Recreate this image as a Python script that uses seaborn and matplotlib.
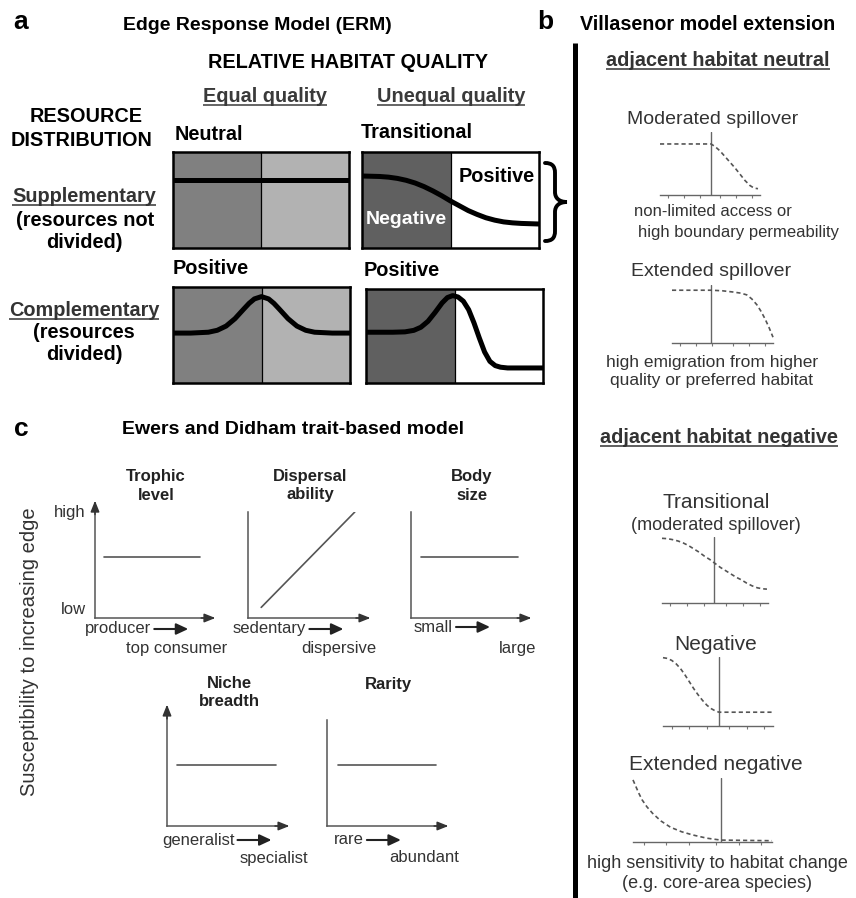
import matplotlib
matplotlib.use("Agg")
import matplotlib.pyplot as plt
from matplotlib.path import Path
from matplotlib.patches import PathPatch
import seaborn as sns

W, H = 856, 898

# ---------------- panel a: Edge Response Model profiles (box-relative) ----------------
neutral_x = [0.0, 1.0]
neutral_y = [0.71, 0.71]
transitional_x = [0.0, 0.10, 0.15, 0.20, 0.25, 0.30, 0.35, 0.40, 0.45, 0.50,
                  0.55, 0.60, 0.65, 0.70, 0.75, 0.80, 0.85, 0.90, 1.0]
transitional_y = [0.75, 0.745, 0.738, 0.725, 0.705, 0.677, 0.64, 0.595, 0.545, 0.49,
                  0.44, 0.39, 0.35, 0.315, 0.29, 0.272, 0.262, 0.256, 0.25]
comp_equal_x = [0.0, 0.10, 0.20, 0.25, 0.30, 0.35, 0.40, 0.43, 0.46, 0.50,
                0.54, 0.57, 0.60, 0.65, 0.70, 0.75, 0.80, 0.90, 1.0]
comp_equal_y = [0.52, 0.52, 0.529, 0.549, 0.593, 0.67, 0.771, 0.83, 0.876, 0.90,
                0.876, 0.83, 0.771, 0.67, 0.593, 0.549, 0.529, 0.52, 0.52]
comp_unequal_x = [0.0, 0.15, 0.22, 0.27, 0.31, 0.35, 0.39, 0.43, 0.46, 0.49, 0.52,
                  0.55, 0.58, 0.61, 0.64, 0.67, 0.70, 0.73, 0.76, 0.80, 0.90, 1.0]
comp_unequal_y = [0.54, 0.54, 0.544, 0.56, 0.593, 0.656, 0.75, 0.852, 0.909, 0.93, 0.915,
                  0.87, 0.78, 0.64, 0.48, 0.33, 0.23, 0.185, 0.168, 0.16, 0.16, 0.16]

# ---------------- panel b: Villasenor edge profiles (edge at given x) ----------------
mod_spill_x = [0.0, 0.51, 0.55, 0.60, 0.65, 0.70, 0.75, 0.80, 0.85, 0.90, 0.94, 0.98]
mod_spill_y = [0.81, 0.81, 0.77, 0.70, 0.61, 0.52, 0.43, 0.33, 0.23, 0.15, 0.11, 0.10]
ext_spill_x = [0.0, 0.39, 0.50, 0.60, 0.68, 0.74, 0.79, 0.84, 0.88, 0.92, 0.96, 1.0]
ext_spill_y = [0.91, 0.91, 0.90, 0.88, 0.86, 0.83, 0.76, 0.66, 0.55, 0.42, 0.27, 0.10]
trans_x = [0.0, 0.05, 0.10, 0.15, 0.20, 0.25, 0.30, 0.35, 0.40, 0.45, 0.50,
           0.55, 0.60, 0.65, 0.70, 0.75, 0.80, 0.85, 0.90, 0.95, 0.99]
trans_y = [0.98, 0.975, 0.96, 0.94, 0.91, 0.87, 0.82, 0.77, 0.71, 0.66, 0.60,
           0.54, 0.49, 0.44, 0.39, 0.35, 0.30, 0.26, 0.23, 0.215, 0.21]
neg_x = [0.0, 0.04, 0.08, 0.12, 0.16, 0.20, 0.24, 0.28, 0.32, 0.36, 0.40, 0.44, 0.48, 0.51, 1.0]
neg_y = [0.99, 0.98, 0.95, 0.90, 0.83, 0.74, 0.64, 0.54, 0.45, 0.37, 0.30, 0.25, 0.215, 0.20, 0.20]
ext_neg_x = [0.0, 0.02, 0.04, 0.065, 0.10, 0.14, 0.20, 0.27, 0.35, 0.43, 0.53, 0.63, 1.0]
ext_neg_y = [0.97, 0.87, 0.77, 0.66, 0.55, 0.45, 0.33, 0.23, 0.16, 0.11, 0.06, 0.03, 0.02]
edge_pos = [0.51, 0.39, 0.49, 0.51, 0.63]
profile_ticks = [0.08, 0.24, 0.40, 0.60, 0.76, 0.92]

# ---------------- panel c: Ewers & Didham trait responses ----------------
trait_top = ["Trophic", "Dispersal", "Body", "Niche", "Rarity"]
trait_bottom = ["level", "ability", "size", "breadth", ""]
trait_low = ["producer", "sedentary", "small", "generalist", "rare"]
trait_high = ["top consumer", "dispersive", "large", "specialist", "abundant"]
trait_x0 = [0.08, 0.11, 0.085, 0.085, 0.09]
trait_x1 = [0.89, 0.89, 0.91, 0.905, 0.92]
trait_y0 = [0.53, 0.10, 0.575, 0.51, 0.575]
trait_y1 = [0.53, 1.00, 0.575, 0.51, 0.575]

sns.set_theme(style="white")
plt.rcParams["font.family"] = ["Liberation Sans", "DejaVu Sans"]

fig = plt.figure(figsize=(W / 100, H / 100), dpi=100)
fig.patch.set_facecolor("white")
canvas = fig.add_axes([0, 0, 1, 1], zorder=0)
canvas.set_xlim(0, W)
canvas.set_ylim(H, 0)
canvas.axis("off")


def px_axes(x0, y0, x1, y1):
    ax = fig.add_axes([x0 / W, 1 - y1 / H, (x1 - x0) / W, (y1 - y0) / H], zorder=2)
    ax.set_xlim(0, 1)
    ax.set_ylim(0, 1)
    ax.set_xticks([])
    ax.set_yticks([])
    ax.patch.set_alpha(0)
    return ax


def label(x, y, s, size, weight="normal", color="black", ha="center", va="center", **kw):
    return canvas.text(x, y, s, fontsize=size, fontweight=weight, color=color,
                       ha=ha, va=va, **kw)


def text_right(t):
    r = fig.canvas.get_renderer()
    bb = t.get_window_extent(renderer=r)
    return canvas.transData.inverted().transform((bb.x1, bb.y0))[0]


def underline(t, y, color, lw=1.1):
    r = fig.canvas.get_renderer()
    bb = t.get_window_extent(renderer=r)
    inv = canvas.transData.inverted()
    x0 = inv.transform((bb.x0, bb.y0))[0]
    x1 = inv.transform((bb.x1, bb.y0))[0]
    canvas.plot([x0, x1], [y, y], color=color, lw=lw, solid_capstyle="butt")


# ======================= panel a =======================
label(21, 22, "a", 19, "bold")
label(257, 25, "Edge Response Model (ERM)", 14, "bold")
label(348, 62, "RELATIVE HABITAT QUALITY", 14.3, "bold")
t = label(265, 102, "Equal quality", 14.3, "bold", "#3a3a3a", va="baseline")
underline(t, 105, "#3a3a3a")
t = label(451, 102, "Unequal quality", 14.3, "bold", "#3a3a3a", va="baseline")
underline(t, 105, "#3a3a3a")
label(86, 117, "RESOURCE", 14.3, "bold")
label(82, 141, "DISTRIBUTION", 14.3, "bold")
label(175, 135, "Neutral", 14.3, "bold", ha="left")
label(361, 133, "Transitional", 14.3, "bold", ha="left")

t = label(84, 202, "Supplementary", 14.3, "bold", "#333333", va="baseline")
underline(t, 204.5, "#333333")
label(85, 220, "(resources not", 14.3, "bold")
label(84, 242, "divided)", 14.3, "bold")
t = label(84, 316, "Complementary", 14.3, "bold", "#333333", va="baseline")
underline(t, 318.5, "#333333")
label(84, 333, "(resources", 14.3, "bold")
label(84, 355, "divided)", 14.3, "bold")
label(173, 269, "Positive", 14.3, "bold", ha="left")
label(364, 271, "Positive", 14.3, "bold", ha="left")


def erm_box(x0, y0, x1, y1, left_c, right_c, xs, ys):
    ax = px_axes(x0, y0, x1, y1)
    ax.patch.set_alpha(1)
    ax.axvspan(0, 0.5, color=left_c, lw=0)
    ax.axvspan(0.5, 1, color=right_c, lw=0)
    ax.axvline(0.5, color="black", lw=0.9)
    sns.lineplot(x=xs, y=ys, ax=ax, color="black", lw=3.6, estimator=None, sort=False,
                 solid_joinstyle="round")
    for s in ax.spines.values():
        s.set_visible(True)
        s.set_color("black")
        s.set_linewidth(1.8)
    return ax


erm_box(173, 152, 349, 248, "#808080", "#b2b2b2", neutral_x, neutral_y)
ax2 = erm_box(362, 152, 539, 248, "#606060", "white", transitional_x, transitional_y)
erm_box(173, 287, 350, 383, "#808080", "#b2b2b2", comp_equal_x, comp_equal_y)
erm_box(366, 289, 543, 383, "#606060", "white", comp_unequal_x, comp_unequal_y)
ax2.text(459, 177, "Positive", fontsize=14.3, fontweight="bold", color="black",
         ha="left", va="center", transform=canvas.transData, zorder=6)
ax2.text(366, 219, "Negative", fontsize=14, fontweight="bold", color="white",
         ha="left", va="center", transform=canvas.transData, zorder=6)

# curly brace grouping the supplementary unequal case
brace = Path(
    [(545, 163), (552, 163), (555, 166), (555, 173), (555, 192),
     (555, 198), (559, 202), (567, 202),
     (559, 202), (555, 206), (555, 212), (555, 231),
     (555, 238), (552, 241), (545, 241)],
    [Path.MOVETO, Path.CURVE4, Path.CURVE4, Path.CURVE4, Path.LINETO,
     Path.CURVE4, Path.CURVE4, Path.CURVE4,
     Path.CURVE4, Path.CURVE4, Path.CURVE4, Path.LINETO,
     Path.CURVE4, Path.CURVE4, Path.CURVE4])
canvas.add_patch(PathPatch(brace, fill=False, lw=2.8, color="black", capstyle="round"))

# ======================= panel b =======================
label(545, 22, "b", 19, "bold")
label(708, 25, "Villasenor model extension", 14.2, "bold")
canvas.plot([575, 575], [43, H], color="black", lw=3.6, solid_capstyle="butt")

t = label(718, 66, "adjacent habitat neutral", 14.3, "bold", "#333333", va="baseline")
underline(t, 69, "#333333")
t = label(719, 443, "adjacent habitat negative", 14.3, "bold", "#333333", va="baseline")
underline(t, 446, "#333333")

label(713, 120, "Moderated spillover", 14, color="#333333")
label(634, 212, "non-limited access or", 12, color="#333333", ha="left")
label(638, 233, "high boundary permeability", 12, color="#333333", ha="left")
label(711, 271, "Extended spillover", 14, color="#333333")
label(712, 362, "high emigration from higher", 12.5, color="#333333")
label(712, 380, "quality or preferred habitat", 12.5, color="#333333")
label(716, 503, "Transitional", 15, color="#333333")
label(716, 525, "(moderated spillover)", 13, color="#333333")
label(716, 645, "Negative", 15, color="#333333")
label(716, 765, "Extended negative", 15, color="#333333")
label(717, 863, "high sensitivity to habitat change", 13, color="#333333")
label(717, 884, "(e.g. core-area species)", 13, color="#333333")


def edge_profile(x0, y0, x1, y1, xs, ys, edge):
    ax = px_axes(x0, y0, x1, y1)
    for k in ("top", "right", "left"):
        ax.spines[k].set_visible(False)
    ax.spines["bottom"].set_visible(True)
    ax.spines["bottom"].set_color("#666666")
    ax.spines["bottom"].set_linewidth(1.0)
    ax.axvline(edge, color="#666666", lw=1.0)
    sns.lineplot(x=xs, y=ys, ax=ax, color="#555555", lw=1.2, linestyle=(0, (2.5, 1.8)),
                 estimator=None, sort=False, clip_on=False)
    ax.set_xticks(profile_ticks)
    ax.tick_params(axis="x", bottom=True, length=2.5, width=0.8, color="#777777",
                   direction="out", labelbottom=False)
    return ax


edge_profile(660, 132, 760, 195, mod_spill_x, mod_spill_y, edge_pos[0])
edge_profile(672, 285, 773, 343, ext_spill_x, ext_spill_y, edge_pos[1])
edge_profile(662, 537, 768, 603, trans_x, trans_y, edge_pos[2])
edge_profile(663, 657, 773, 726, neg_x, neg_y, edge_pos[3])
edge_profile(633, 778, 772, 842, ext_neg_x, ext_neg_y, edge_pos[4])

# ======================= panel c =======================
label(21, 429, "c", 19, "bold")
label(293, 430, "Ewers and Didham trait-based model", 14, "bold")
label(30, 652, "Susceptibility to increasing edge", 14.5, color="#333333", rotation=90)
label(86, 513, "high", 12, color="#333333", ha="right")
label(86, 610, "low", 12, color="#333333", ha="right")

head = "-|>,head_length=0.55,head_width=0.22"


def trait_panel(i, x0, y0, x1, y1, y_arrow, title_y, low_xy, high_xy):
    ax = px_axes(x0, y0, x1, y1)
    for k in ("top", "right"):
        ax.spines[k].set_visible(False)
    for k in ("left", "bottom"):
        ax.spines[k].set_visible(True)
        ax.spines[k].set_color("#555555")
        ax.spines[k].set_linewidth(1.1)
    sns.lineplot(x=[trait_x0[i], trait_x1[i]], y=[trait_y0[i], trait_y1[i]], ax=ax,
                 color="#555555", lw=1.2, estimator=None, sort=False)
    ax.annotate("", xy=(1.02, 0), xytext=(0.9, 0), xycoords="axes fraction",
                arrowprops=dict(arrowstyle=head, color="#333333", lw=1.1,
                                shrinkA=0, shrinkB=0))
    if y_arrow:
        ax.annotate("", xy=(0, 1.02), xytext=(0, 0.9), xycoords="axes fraction",
                    arrowprops=dict(arrowstyle=head, color="#333333", lw=1.1,
                                    shrinkA=0, shrinkB=0))
    cx = (x0 + x1) / 2 + 2
    label(cx, title_y, trait_top[i], 12, "bold", "#222222")
    if trait_bottom[i]:
        label(cx, title_y + 18, trait_bottom[i], 12, "bold", "#222222")
    tl = label(low_xy[0], low_xy[1], trait_low[i], 12, color="#333333", ha="left")
    xe = text_right(tl) + 3
    canvas.annotate("", xy=(xe + 34, low_xy[1]), xytext=(xe, low_xy[1]),
                    arrowprops=dict(arrowstyle="-|>,head_length=0.6,head_width=0.28",
                                    color="#222222", lw=1.5, shrinkA=0, shrinkB=0))
    label(high_xy[0], high_xy[1], trait_high[i], 12, color="#333333", ha="right")


trait_panel(0, 95, 503, 213, 618, True, 477, (85, 629), (227, 648))
trait_panel(1, 248, 512, 368, 618, False, 477, (233, 629), (376, 648))
trait_panel(2, 411, 512, 529, 618, False, 477, (414, 627), (536, 649))
trait_panel(3, 167, 707, 287, 826, True, 683, (162, 840), (308, 859))
trait_panel(4, 327, 720, 446, 826, False, 684, (334, 840), (459, 858))

fig.savefig("out.png", dpi=100, facecolor="white")
